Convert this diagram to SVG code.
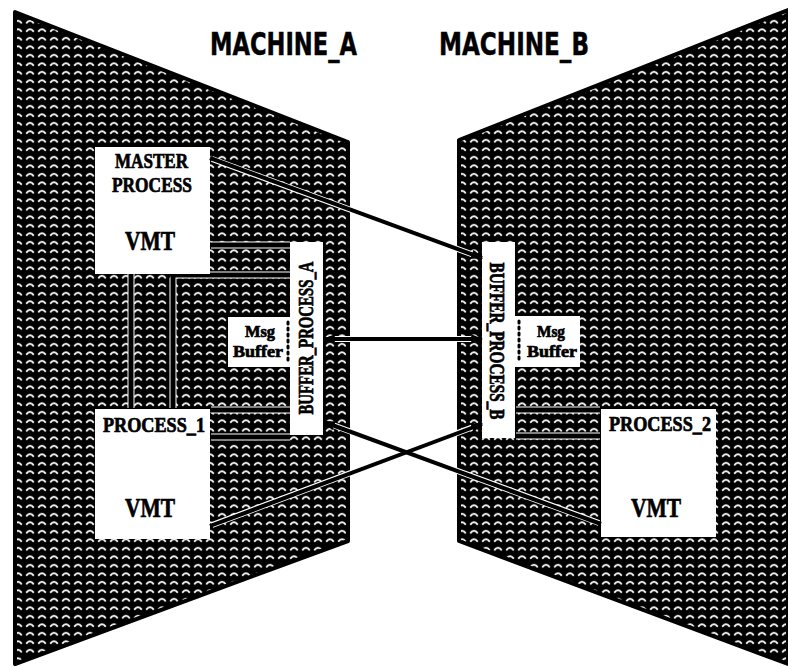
<svg xmlns="http://www.w3.org/2000/svg" width="788" height="667" viewBox="0 0 788 667">
<style>
.box{fill:#fff;stroke:none}
.barh{stroke:#fff;stroke-width:7;fill:none}
.bar{stroke:#000;stroke-width:5;fill:none}
.lbl{font-family:"Liberation Serif","DejaVu Serif",serif;font-weight:bold;fill:#000;stroke:#000;stroke-width:0.7}
.title{font-family:"DejaVu Sans","Liberation Sans",sans-serif;font-weight:bold;font-size:32px;fill:#000;stroke:#000;stroke-width:0.5}
.conn{stroke:#000;stroke-width:4;fill:none}
.halo{stroke:#fff;stroke-width:6;fill:none}
.dots{stroke:#000;stroke-width:3;stroke-dasharray:2 4;stroke-linecap:round;fill:none}
</style>
<defs>
<pattern id="knit" patternUnits="userSpaceOnUse" width="12" height="8.5">
<rect width="12" height="8.5" fill="#000"/>
<path d="M2.2,6.3 Q6,1.3 9.8,6.3" stroke="#fff" stroke-width="1.8" fill="none"/>
</pattern>
<marker id="arr" viewBox="0 0 10 8" refX="9" refY="4" markerWidth="12" markerHeight="10" markerUnits="userSpaceOnUse" orient="auto-start-reverse">
<path d="M0,0 L10,4 L0,8 z" fill="#000"/>
</marker>
</defs>
<rect width="788" height="667" fill="#fff"/>

<g id="machine_a">
<polygon points="15,12 348,142 348,541 15,664" fill="url(#knit)" stroke="#000" stroke-width="4" stroke-linejoin="round"/>
<line class="barh" x1="131" y1="274" x2="131" y2="408"/>
<line class="barh" x1="173" y1="278" x2="173" y2="408"/>
<line class="barh" x1="211" y1="245" x2="290" y2="245"/>
<line class="barh" x1="173" y1="275" x2="290" y2="275"/>
<line class="barh" x1="211" y1="410" x2="290" y2="410"/>
<line class="barh" x1="211" y1="437" x2="290" y2="437"/>
<line class="bar" x1="131" y1="273" x2="131" y2="409"/>
<line class="bar" x1="173" y1="273" x2="173" y2="409"/>
<line class="bar" x1="210" y1="245" x2="290" y2="245"/>
<line class="bar" x1="171" y1="275" x2="290" y2="275"/>
<line class="bar" x1="210" y1="410" x2="290" y2="410"/>
<line class="bar" x1="210" y1="437" x2="290" y2="437"/>
</g>
<g id="machine_b">
<polygon points="459,140 788,10 788,664 459,541" fill="url(#knit)" stroke="#000" stroke-width="4" stroke-linejoin="round"/>
<line class="barh" x1="516" y1="410" x2="600" y2="410"/>
<line class="barh" x1="516" y1="436" x2="600" y2="436"/>
<line class="bar" x1="516" y1="410" x2="601" y2="410"/>
<line class="bar" x1="516" y1="436" x2="601" y2="436"/>
</g>

<g id="labels">
<text class="title" x="210" y="55" textLength="147" lengthAdjust="spacingAndGlyphs">MACHINE_A</text>
<text class="title" x="439" y="55" textLength="150" lengthAdjust="spacingAndGlyphs">MACHINE_B</text>
</g>

<g id="master_process">
<rect class="box" x="95" y="147" width="115" height="127"/>
<text class="lbl" x="115" y="168" font-size="21" textLength="73" lengthAdjust="spacingAndGlyphs">MASTER</text>
<text class="lbl" x="112" y="192" font-size="21" textLength="80" lengthAdjust="spacingAndGlyphs">PROCESS</text>
<text class="lbl" x="125" y="250" font-size="28" textLength="50" lengthAdjust="spacingAndGlyphs">VMT</text>
</g>

<g id="process_1">
<rect class="box" x="95" y="409" width="115" height="130"/>
<text class="lbl" x="103" y="432" font-size="21" textLength="102" lengthAdjust="spacingAndGlyphs">PROCESS_1</text>
<text class="lbl" x="125" y="517" font-size="28" textLength="50" lengthAdjust="spacingAndGlyphs">VMT</text>
</g>

<g id="process_2">
<rect class="box" x="601" y="409" width="115" height="128"/>
<text class="lbl" x="609" y="431" font-size="21" textLength="102" lengthAdjust="spacingAndGlyphs">PROCESS_2</text>
<text class="lbl" x="631" y="517" font-size="28" textLength="50" lengthAdjust="spacingAndGlyphs">VMT</text>
</g>

<g id="buffer_process_a">
<rect class="box" x="290" y="242" width="33" height="193"/>
<text class="lbl" transform="translate(313,338) rotate(-90)" x="0" y="0" font-size="20" text-anchor="middle" textLength="153" lengthAdjust="spacingAndGlyphs">BUFFER_PROCESS_A</text>
</g>

<g id="buffer_process_b">
<rect class="box" x="482" y="242" width="33" height="196"/>
<text class="lbl" transform="translate(490,341) rotate(90)" x="0" y="0" font-size="20" text-anchor="middle" textLength="157" lengthAdjust="spacingAndGlyphs">BUFFER_PROCESS_B</text>
</g>

<g id="msg_buffer_a">
<rect class="box" x="228" y="317" width="64" height="50"/>
<line class="dots" x1="288" y1="322" x2="288" y2="364"/>
<text class="lbl" x="245" y="337" font-size="17" textLength="30" lengthAdjust="spacingAndGlyphs">Msg</text>
<text class="lbl" x="233" y="357" font-size="17" textLength="50" lengthAdjust="spacingAndGlyphs">Buffer</text>
</g>

<g id="msg_buffer_b">
<rect class="box" x="513" y="316" width="67" height="51"/>
<line class="dots" x1="519" y1="321" x2="519" y2="362"/>
<text class="lbl" x="537" y="337" font-size="17" textLength="28" lengthAdjust="spacingAndGlyphs">Msg</text>
<text class="lbl" x="527" y="357" font-size="17" textLength="50" lengthAdjust="spacingAndGlyphs">Buffer</text>
</g>

<g id="connectors">
<line class="halo" x1="212" y1="159" x2="474" y2="255"/>
<line class="halo" x1="330" y1="339" x2="476" y2="339"/>
<line class="halo" x1="599" y1="523" x2="330" y2="424"/>
<line class="halo" x1="212" y1="525" x2="476" y2="426"/>
<line class="conn" x1="210" y1="158" x2="482" y2="258" marker-end="url(#arr)"/>
<line class="conn" x1="324" y1="339" x2="482" y2="339" marker-start="url(#arr)" marker-end="url(#arr)"/>
<line class="conn" x1="601" y1="524" x2="324" y2="422" marker-end="url(#arr)"/>
<line class="conn" x1="210" y1="526" x2="482" y2="424" marker-end="url(#arr)"/>
</g>
</svg>
